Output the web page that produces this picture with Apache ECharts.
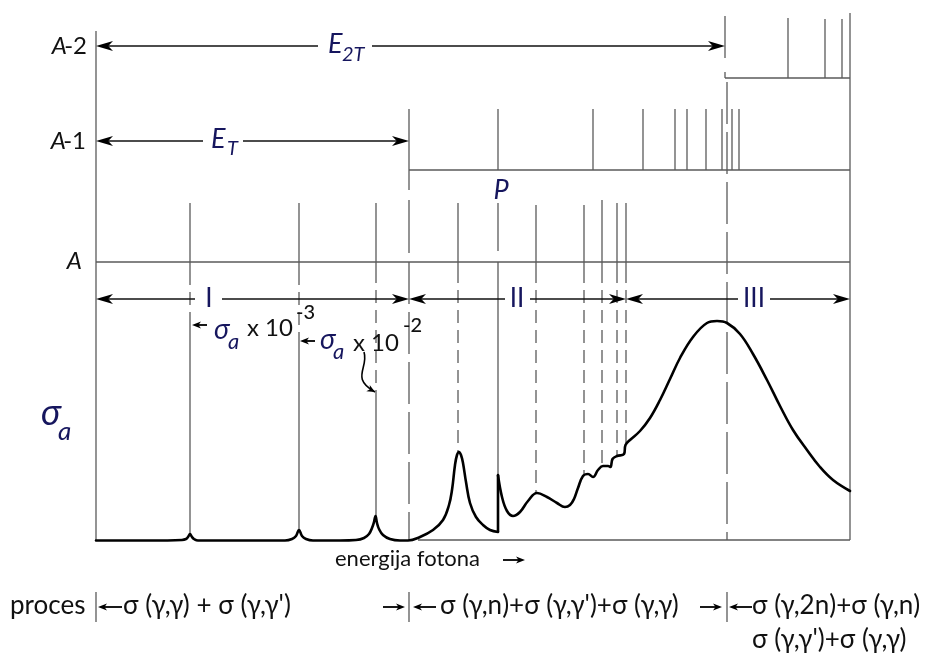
<!DOCTYPE html>
<html><head><meta charset="utf-8">
<script src="https://cdn.jsdelivr.net/npm/echarts@6/dist/echarts.min.js"></script>
<style>html,body{margin:0;padding:0;background:#fff}#c{width:930px;height:655px}</style>
</head><body><div id="c"></div>
<script>
// ---- photon absorption cross-section curve (energy position, plot level; y grows downward) ----
// below the neutron threshold jump
const energyLow = [96,150,182,186,188,190,192,194,198,240,285,292,296,299,302,306,313,340,356,364,369,372,374,375.5,377,379,383,390,400,408,
  420,433,443,449,452,455,457,459,461,463,466,470,476,483,490,498];
const sigmaLow = [540.5,540.5,540,539,537,534,537,539,540.5,540.5,540.5,539,536,530,536,539,540.5,540.5,540,538,534,528,522,516,523,529,535,539,540.5,540.5,
  537,530,520,505,490,465,455,452,455,463,482,503,517,525,530,532];
// above the jump
const energyHigh = [498,502,507,513,520,528,537,547,557,565,570,574,578,583,588,593,598,603,608,610.5,612.5,617,624,625.5,630,640,650,660,670,680,693,707,717,727,740,753,767,780,793,807,820,833,850];
const sigmaHigh = [475,497,511,516,512,501,493,497,503,507,505,499,488,476,474,477,470,466,466,467,459,456,454,445,440,431,418,400,379,358,337,323,321,323,334,354,380,406,430,450,467,480,491];
const curveJump = [[498,532,498,475]];

// ---- energy levels (plot level) ----
const levelA = 262, levelA1 = 170, levelA2 = 78;

// ---- solid structural lines [x1,y1,x2,y2] ----
const solidLines = [
  [96,31,96,540],[850,13,850,540],[418,540,850,540],
  [96,levelA,850,levelA],[409,levelA1,850,levelA1],[725,levelA2,850,levelA2],
  [725,16,725,58],[725,72,725,levelA2],[788,18,788,levelA2],[825,19,825,levelA2],[842,19,842,levelA2],
  [409,109,409,190],[498,109,498,levelA1],[593,109,593,levelA1],[643,109,643,levelA1],[675,109,675,levelA1],
  [687,109,687,levelA1],[706,109,706,levelA1],[722,109,722,levelA1],[732,109,732,levelA1],[739,109,739,levelA1],
  [190,203,190,272],[299,203,299,272],[376,203,376,270],[409,200,409,253],
  [458,203,458,270],[498,203,498,251],[536,205,536,270],[584,205,584,270],[602,200,602,270],[617,203,617,270],[626,203,626,270],
  [190,320,190,535],[299,340,299,531],[376,393,376,517],[498,262,498,532],
  [96,592,96,622],[409,592,409,622],[727,592,727,622]
];
// ---- dashed level-to-curve lines ----
const dashedLines = [
  [190,272,190,320],[299,272,299,340],[376,270,376,393],
  [458,270,458,452],[536,270,536,493],[584,270,584,474],[602,270,602,466],[617,270,617,456],[626,270,626,445]
];
const longDashedLines = [[409,262,409,540],[727,82,727,540]];

// ---- double arrows [y, xLeft, xRight, gapStart, gapEnd] ----
const spans = [
  [46,96,725,318,372],
  [141,96,409,203,243],
  [299,96,409,195,222],
  [299,409,626,505,530],
  [299,626,850,738,770]
];
// ---- single pointers [y, tailX, tipX] ----
const pointers = [
  [325,207,192],[341,315,300],[560,503,525],
  [607,122,98],[607,383,405],[607,436,413],[607,700,722],[607,752,729]
];
// ---- curved pointer [x0,y0, c1x,c1y, c2x,c2y, x1,y1] ----
const curvedPointer = [364,352, 369,368, 350,378, 375,392];

// ---- text labels ----
const labels = [
  {t:'A', x:67, y:46, s:'lvlI', a:'right'},{t:'-2', x:87, y:46, s:'lvl', a:'right'},
  {t:'A', x:66, y:141, s:'lvlI', a:'right'},{t:'-1', x:86, y:141, s:'lvl', a:'right'},
  {t:'A', x:82, y:261, s:'lvlI', a:'right'},
  {t:'E', x:328, y:44, s:'E'},{t:'2T', x:342, y:55, s:'Esub'},
  {t:'E', x:211, y:139, s:'E'},{t:'T', x:227, y:149, s:'Esub'},
  {t:'P', x:501, y:190, s:'E', a:'center'},
  {t:'I', x:209, y:299, s:'roman', a:'center'},
  {t:'II', x:517, y:299, s:'roman', a:'center'},
  {t:'III', x:754, y:299, s:'roman', a:'center'},
  {t:'σ', x:41, y:413, s:'sigBig'},{t:'a', x:58, y:432, s:'sigBigSub'},
  {t:'σ', x:214, y:330, s:'sig'},{t:'a', x:228, y:342, s:'sigSub'},
  {t:'x 10', x:247, y:328, s:'num'},{t:'-3', x:296, y:313, s:'sup'},
  {t:'σ', x:320, y:340, s:'sig'},{t:'a', x:333, y:352, s:'sigSub'},
  {t:'x 10', x:353, y:343, s:'num'},{t:'-2', x:403, y:326, s:'sup'},
  {t:'energija fotona', x:335, y:559, s:'small'},
  {t:'proces', x:10, y:606, s:'proc'},
  {t:'σ (γ,γ) + σ (γ,γ\')', x:123, y:606, s:'proc'},
  {t:'σ (γ,n)+σ (γ,γ\')+σ (γ,γ)', x:440, y:606, s:'proc'},
  {t:'σ (γ,2n)+σ (γ,n)', x:752, y:606, s:'proc'},
  {t:'σ (γ,γ\')+σ (γ,γ)', x:752, y:640, s:'proc'}
];

const NAVY = '#16165e', FAM = "Lato, 'Noto Sans', 'DejaVu Sans', sans-serif";
const fonts = {
  lvl:{font:'24px '+FAM, fill:'#111'}, lvlI:{font:'italic 24px '+FAM, fill:'#111'},
  E:{font:'italic 27px '+FAM, fill:NAVY}, Esub:{font:'italic 20px '+FAM, fill:NAVY},
  roman:{font:'26px '+FAM, fill:NAVY},
  sigBig:{font:'italic 36px '+FAM, fill:NAVY}, sigBigSub:{font:'italic 26px '+FAM, fill:NAVY},
  sig:{font:'italic 28px '+FAM, fill:NAVY}, sigSub:{font:'italic 22px '+FAM, fill:NAVY},
  num:{font:'24px '+FAM, fill:'#111'}, sup:{font:'500 20px '+FAM, fill:'#111'},
  small:{font:'22px '+FAM, fill:'#111'}, proc:{font:'26px '+FAM, fill:'#111'}
};

function segSeries(segs, style, z) {
  return {
    type:'custom', coordinateSystem:'cartesian2d', clip:false, silent:true, z: z || 2,
    data: segs.map(s => [s[0], s[1], s[2], s[3]]),
    renderItem: (params, api) => {
      const s = segs[params.dataIndex];
      const p1 = api.coord([s[0], s[1]]), p2 = api.coord([s[2], s[3]]);
      return {type:'line', shape:{x1:p1[0], y1:p1[1], x2:p2[0], y2:p2[1]},
        style: Object.assign({stroke:'#5a5a5a', lineWidth:1.3, fill:null}, style)};
    }
  };
}
function head(tip, dir, len, half) {
  return {type:'polygon', shape:{points:[
    [tip[0], tip[1]], [tip[0]-dir*len, tip[1]-half], [tip[0]-dir*len*0.72, tip[1]], [tip[0]-dir*len, tip[1]+half]]},
    style:{fill:'#000', stroke:null}};
}
function curveSeries(xs, ys) {
  return {
    type:'line', data: xs.map((x,i)=>[x, ys[i]]), showSymbol:false, smooth:0.4,
    lineStyle:{color:'#000', width:2.6, cap:'round', join:'round'}, silent:true, z:3
  };
}

const option = {
  animation:false,
  backgroundColor:'#fff',
  grid:{left:0, right:0, top:0, bottom:0},
  xAxis:{type:'value', min:0, max:930, show:false},
  yAxis:{type:'value', min:0, max:655, inverse:true, show:false},
  series:[
    segSeries(solidLines, {}),
    segSeries(dashedLines, {lineDash:[13,7]}),
    segSeries(longDashedLines, {lineDash:[42,8]}),
    curveSeries(energyLow, sigmaLow),
    curveSeries(energyHigh, sigmaHigh),
    segSeries(curveJump, {stroke:'#000', lineWidth:2.6}, 3),
    {
      type:'custom', coordinateSystem:'cartesian2d', clip:false, silent:true, z:4,
      data: spans.map(s => [s[1], s[0], s[2]]),
      renderItem:(params, api) => {
        const s = spans[params.dataIndex];
        const a = api.coord([s[1], s[0]]), b = api.coord([s[2], s[0]]);
        const g1 = api.coord([s[3], s[0]]), g2 = api.coord([s[4], s[0]]);
        const st = {stroke:'#111', lineWidth:1.3};
        return {type:'group', children:[
          {type:'line', shape:{x1:a[0]+8, y1:a[1], x2:g1[0], y2:g1[1]}, style:st},
          {type:'line', shape:{x1:g2[0], y1:g2[1], x2:b[0]-8, y2:b[1]}, style:st},
          head(a, -1, 17, 5), head(b, 1, 17, 5)
        ]};
      }
    },
    {
      type:'custom', coordinateSystem:'cartesian2d', clip:false, silent:true, z:4,
      data: pointers.map(p => [p[1], p[0], p[2]]),
      renderItem:(params, api) => {
        const p = pointers[params.dataIndex];
        const t = api.coord([p[1], p[0]]), h = api.coord([p[2], p[0]]);
        const dir = h[0] > t[0] ? 1 : -1;
        return {type:'group', children:[
          {type:'line', shape:{x1:t[0], y1:t[1], x2:h[0]-dir*5, y2:h[1]}, style:{stroke:'#000', lineWidth:1.8}},
          head(h, dir, 9, 3.6)
        ]};
      }
    },
    {
      type:'custom', coordinateSystem:'cartesian2d', clip:false, silent:true, z:4,
      data:[[curvedPointer[0], curvedPointer[1]]],
      renderItem:(params, api) => {
        const c = curvedPointer;
        const p0 = api.coord([c[0],c[1]]), q1 = api.coord([c[2],c[3]]), q2 = api.coord([c[4],c[5]]), p1 = api.coord([c[6],c[7]]);
        const ang = Math.atan2(p1[1]-q2[1], p1[0]-q2[0]);
        const L = 8, H = 3.5, ca = Math.cos(ang), sa = Math.sin(ang);
        const pt = (dx, dy) => [p1[0] + dx*ca - dy*sa, p1[1] + dx*sa + dy*ca];
        return {type:'group', children:[
          {type:'bezierCurve', shape:{x1:p0[0], y1:p0[1], cpx1:q1[0], cpy1:q1[1], cpx2:q2[0], cpy2:q2[1], x2:p1[0], y2:p1[1]},
            style:{stroke:'#000', lineWidth:1.6, fill:null}},
          {type:'polygon', shape:{points:[pt(0,0), pt(-L,-H), pt(-L*0.7,0), pt(-L,H)]}, style:{fill:'#000'}}
        ]};
      }
    },
    {
      type:'custom', coordinateSystem:'cartesian2d', clip:false, silent:true, z:5,
      data: labels.map(l => [l.x, l.y]),
      renderItem:(params, api) => {
        const l = labels[params.dataIndex];
        const p = api.coord([l.x, l.y]);
        const f = fonts[l.s];
        return {type:'text', x:p[0], y:p[1], style:{text:l.t, font:f.font, fill:f.fill, align:l.a || 'left', verticalAlign:'middle'}};
      }
    }
  ]
};
const chart = echarts.init(document.getElementById('c'), null, {renderer:'canvas'});
chart.setOption(option);
</script></body></html>
